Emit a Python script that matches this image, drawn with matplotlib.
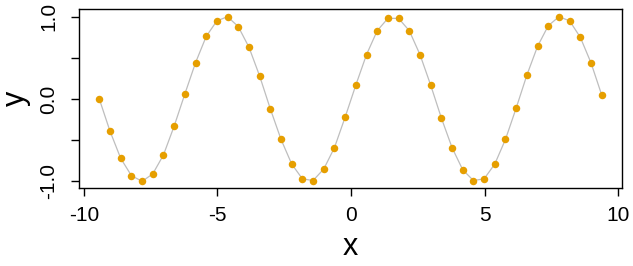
import matplotlib
matplotlib.use("Agg")
import matplotlib.pyplot as plt

plt.rcParams['font.family'] = ['Liberation Sans', 'DejaVu Sans']

# points (grey line joins them)
x_vals = [-9.42, -9.02, -8.62, -8.22, -7.82, -7.42, -7.02, -6.62, -6.22, -5.82,
          -5.42, -5.02, -4.62, -4.22, -3.82, -3.42, -3.02, -2.62, -2.22, -1.82,
          -1.42, -1.02, -0.62, -0.22, 0.18, 0.58, 0.98, 1.38, 1.78, 2.18,
          2.58, 2.98, 3.38, 3.78, 4.18, 4.58, 4.98, 5.38, 5.78, 6.18,
          6.58, 6.98, 7.38, 7.78, 8.18, 8.58, 8.98, 9.38]
y_vals = [0.00, -0.39, -0.72, -0.93, -1.00, -0.91, -0.68, -0.33, 0.06, 0.44,
          0.76, 0.95, 1.00, 0.88, 0.63, 0.28, -0.12, -0.49, -0.79, -0.97,
          -0.99, -0.85, -0.59, -0.22, 0.17, 0.54, 0.83, 0.98, 0.98, 0.83,
          0.54, 0.17, -0.23, -0.59, -0.86, -0.99, -0.97, -0.79, -0.49, -0.11,
          0.29, 0.64, 0.89, 1.00, 0.95, 0.75, 0.44, 0.05]

x_ticks = [-10, -5, 0, 5, 10]
y_ticks = [-1.0, -0.5, 0.0, 0.5, 1.0]
y_tick_labels = ['-1.0', '', '0.0', '', '1.0']

fig = plt.figure(figsize=(6.33, 2.66), dpi=100)
ax = fig.add_axes([0.1248, 0.292, 0.8578, 0.673])

ax.plot(x_vals, y_vals, color='#BEBEBE', linewidth=0.9, zorder=1)
ax.plot(x_vals, y_vals, 'o', color='#E69F00', markersize=5.4, markeredgewidth=0, zorder=2)

ax.set_xlim(-10.18, 10.14)
ax.set_ylim(-1.085, 1.09)
ax.set_xticks(x_ticks)
ax.set_xticklabels([str(t) for t in x_ticks])
ax.set_yticks(y_ticks)
ax.set_yticklabels(y_tick_labels, rotation=90, va='center')

ax.tick_params(axis='both', direction='out', length=5.5, width=1, labelsize=15, color='black')
ax.tick_params(axis='x', pad=7.5)
ax.tick_params(axis='y', pad=9.5)
for s in ax.spines.values():
    s.set_linewidth(1)

ax.set_xlabel('x', fontsize=22, labelpad=5)
ax.set_ylabel('y', fontsize=22, labelpad=6)

fig.savefig('out.png', dpi=100)
